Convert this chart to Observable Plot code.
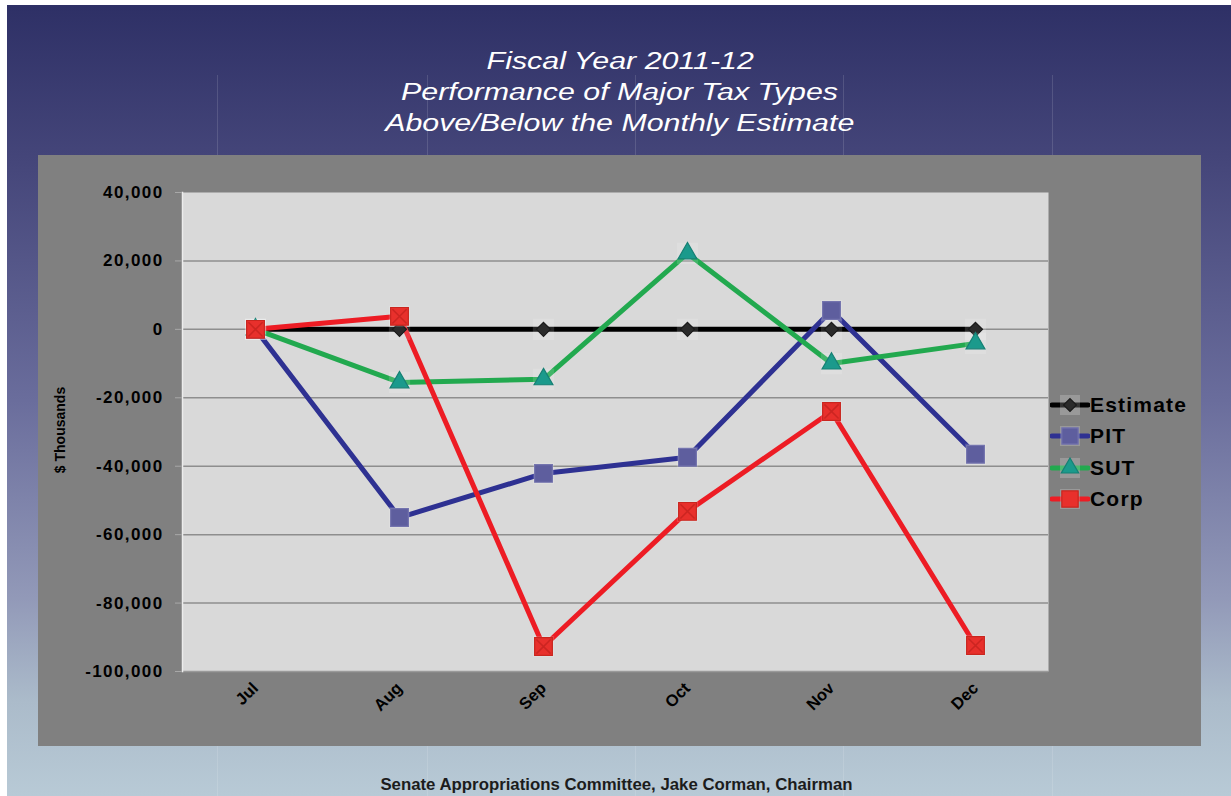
<!DOCTYPE html>
<html><head><meta charset="utf-8">
<script src="https://cdn.jsdelivr.net/npm/d3@7"></script>
<script src="https://cdn.jsdelivr.net/npm/@observablehq/plot@0.6"></script>
<style>
body{margin:0;background:#fff;font-family:"Liberation Sans",Arial,sans-serif;}
#page{position:relative;width:1231px;height:796px;overflow:hidden;background:#fff;}
#bg{position:absolute;left:7px;top:5px;right:0;bottom:0;
background:linear-gradient(to bottom,#2e3066 0%,#45467a 20%,#6a6d9c 50%,#9299b8 75%,#abbbca 88%,#b8cad6 100%);}
.vline{position:absolute;top:75px;bottom:0;width:1px;background:rgba(255,255,255,0.13);}
#title{position:absolute;left:0;top:46px;width:1240px;text-align:center;color:#fff;font-style:italic;font-size:23px;line-height:31px;}
#title span{display:inline-block;transform:scaleX(1.32);}
#chart{position:absolute;left:38px;top:155px;}
#ylab{position:absolute;left:60px;top:430px;transform:translate(-50%,-50%) rotate(-90deg);font-weight:bold;font-size:14px;color:#000;white-space:nowrap;}
#legend{position:absolute;left:1050px;top:390px;}
.li{position:absolute;left:0;height:22px;display:flex;align-items:center;white-space:nowrap;font-weight:bold;font-size:21px;letter-spacing:1.2px;color:#000;}
#caption{position:absolute;left:0;width:1233px;top:775px;text-align:center;font-weight:bold;font-size:16.8px;color:#1c1c1c;}
g[aria-label="y-axis tick label"] text{letter-spacing:1.4px;}
</style></head><body>
<div id="page">
  <div id="bg"></div>
  <div class="vline" style="left:217px"></div>
  <div class="vline" style="left:427px"></div>
  <div class="vline" style="left:635px"></div>
  <div class="vline" style="left:843px"></div>
  <div class="vline" style="left:1052px"></div>
  <div id="title"></div>
  <div id="chart"></div>
  <div id="ylab">$ Thousands</div>
  <div id="legend"></div>
  <div id="caption">Senate Appropriations Committee, Jake Corman, Chairman</div>
</div>
<script>
const titleLines = ["Fiscal Year 2011-12","Performance of Major Tax Types","Above/Below the Monthly Estimate"];
const months = ["Jul","Aug","Sep","Oct","Nov","Dec"];
const seriesNames = ["Estimate","PIT","SUT","Corp"];
const estimate = [0,0,0,0,0,0];
const pit = [0,-55000,-42100,-37400,5500,-36500];
const sut = [0,-15500,-14600,22200,-10000,-4100];
const corp = [0,3800,-92700,-53200,-24000,-92400];
const yTicks = [40000,20000,0,-20000,-40000,-60000,-80000,-100000];
const lineColors = ["#000000","#2e3192","#22a94f","#ed1c24"];
const markerFill = ["#2b2b2b","#5e5e9e","#1b9a8c","#e8302c"];
const markerStroke = ["#1a1a1a","#7474ae","#168074","#c9261f"];
const symbols = ["diamond2","square","triangle","square"];
const radii = [6.3,10,7,10];

document.getElementById("title").innerHTML = titleLines.map(t=>`<div><span>${t}</span></div>`).join("");

const values = [estimate,pit,sut,corp];
const data = seriesNames.flatMap((s,i)=>values[i].map((v,j)=>({series:s, month:months[j], value:v})));
const fmt = d => d3.format(",")(d).replace("\u2212","-");

const marks = [
  Plot.frame({fill:"#d9d9d9", stroke:null}),
  Plot.ruleY(yTicks.slice(1,-1), {stroke:"#8e8e8e", strokeWidth:1.5}),
  Plot.ruleY([-100000], {stroke:"#9a9a9a", strokeWidth:1.5}),
  Plot.frame({anchor:"left", stroke:"#ececec", strokeWidth:1.5}),
  Plot.axisY({ticks:yTicks, tickFormat:fmt, tickSize:7, tickPadding:12, stroke:"#a8a8a8", fill:"#000", fontSize:17, fontWeight:"bold", label:null}),
  Plot.axisX({tickRotate:-45, tickSize:0, tickPadding:14, fontSize:16.5, fontWeight:"bold", fill:"#000", label:null}),
  Plot.line(data, {x:"month", y:"value", z:"series", stroke:"series", strokeWidth:5})
];
seriesNames.forEach((s,i)=>{
  const d = data.filter(r=>r.series===s);
  marks.push(Plot.dot(d, {x:"month", y:"value", symbol:"square", r:12, fill:"#ffffff", fillOpacity:0.15, stroke:null}));
  marks.push(Plot.dot(d, {x:"month", y:"value", symbol:symbols[i], r:radii[i], fill:markerFill[i], stroke:markerStroke[i], strokeWidth:1.2}));
  if (s==="Corp") marks.push(Plot.dot(d, {x:"month", y:"value", symbol:"times", r:6.5, stroke:"#b01a16", strokeOpacity:0.5, strokeWidth:1.5}));
});

const chart = Plot.plot({
  width:1163, height:591,
  marginLeft:144, marginRight:153, marginTop:37, marginBottom:75,
  style:{background:"#808080", fontFamily:"Liberation Sans, Arial, sans-serif", overflow:"visible"},
  x:{type:"point", domain:months, padding:0.5, label:null},
  y:{domain:[-100000,40000], label:null},
  color:{domain:seriesNames, range:lineColors},
  marks
});
document.getElementById("chart").appendChild(chart);

// legend
const leg = d3.select("#legend");
const rowY = [15,46,78,109];
const symMap = {diamond2:d3.symbolDiamond2, square:d3.symbolSquare, triangle:d3.symbolTriangle};
seriesNames.forEach((s,i)=>{
  const item = leg.append("div").attr("class","li").style("top",(rowY[i]-11)+"px");
  const svg = item.append("svg").attr("width",40).attr("height",22);
  svg.append("line").attr("x1",2).attr("x2",38).attr("y1",11).attr("y2",11).attr("stroke",lineColors[i]).attr("stroke-width",5).attr("stroke-linecap","round");
  svg.append("rect").attr("x",10).attr("y",1).attr("width",20).attr("height",20).attr("fill","#fff").attr("fill-opacity",0.2);
  svg.append("path").attr("transform","translate(20,11)")
    .attr("d", d3.symbol(symMap[symbols[i]], radii[i]*radii[i]*Math.PI*0.85)())
    .attr("fill",markerFill[i]).attr("stroke",markerStroke[i]).attr("stroke-width",1.2);
  item.append("span").text(s);
});
</script>
</body></html>
